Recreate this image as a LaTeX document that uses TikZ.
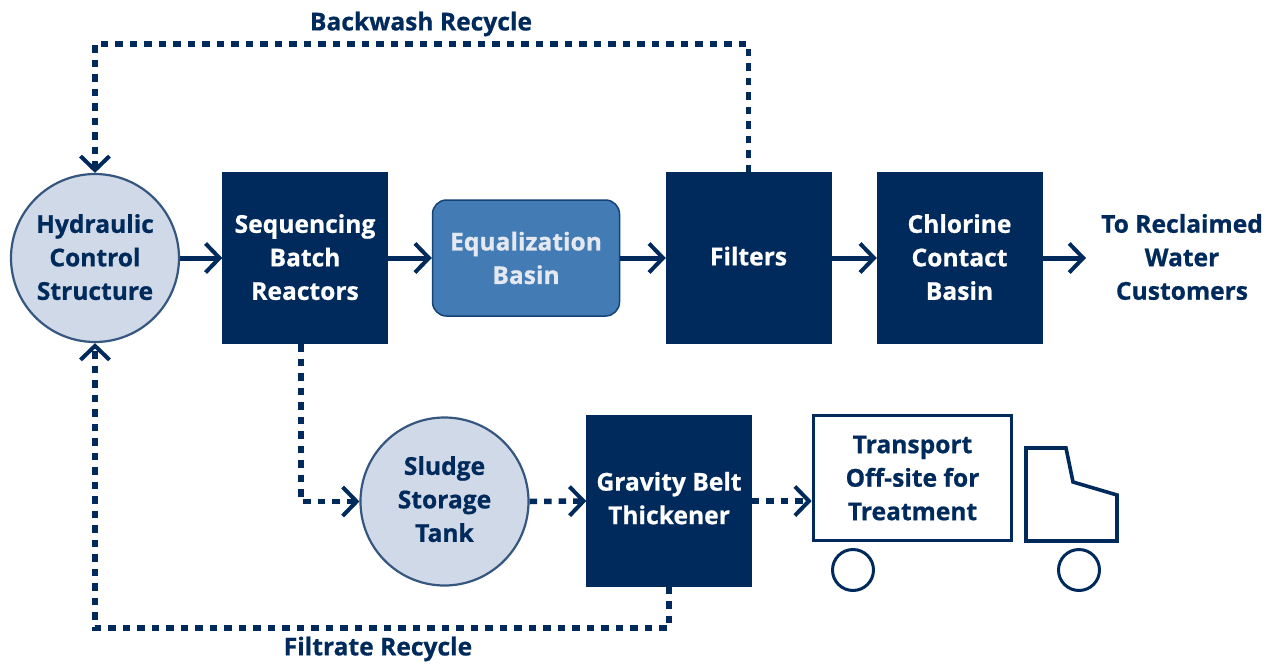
\documentclass[tikz,border=0pt]{standalone}
\usepackage{fontspec}
\setmainfont{Open Sans}[BoldFont={Open Sans Bold},BoldFeatures={FakeBold=0.7}]
\usetikzlibrary{arrows.meta}
\definecolor{navy}{HTML}{002A5C}
\definecolor{pale}{HTML}{D0D9E8}
\definecolor{midblue}{HTML}{437CB5}
\newcommand{\liftby}[1]{\\[\dimexpr #1pt*2-33.5pt\relax]\null}
\tikzset{
  x=1pt,y=-1pt,
  heavy/.style={font=\fontsize{24.6}{33.5}\selectfont\bfseries,align=center},
  label text/.style={heavy,text=navy},
  darkbox/.style={heavy,draw=navy,fill=navy,minimum width=165pt,minimum height=171pt,inner sep=0pt,text=white},
  tankcircle/.style={heavy,circle,draw=navy!75!pale,line width=2.2pt,fill=pale,minimum size=168pt,inner sep=0pt,text=navy},
  eqbox/.style={heavy,rounded corners=14pt,draw=navy!70!midblue,line width=1.5pt,fill=midblue,minimum width=187pt,minimum height=116pt,inner sep=0pt,text=pale!60!white},
  solidflow/.style={draw=navy,line width=5pt,-{Straight Barb[length=14pt,width=29pt,line width=4pt]}},
  dotflow/.style={draw=navy,line width=5.5pt,dash pattern=on 7.5pt off 7pt,-{Straight Barb[length=14pt,width=29pt,line width=4pt]}},
  truckline/.style={draw=navy,line width=3.6pt},
  wheel/.style={circle,draw=navy,line width=3pt,minimum size=41pt,inner sep=0pt},
}
\begin{document}
\begin{tikzpicture}
\useasboundingbox (0,0) rectangle (1277,664);
\node[tankcircle] (hcs) at (95,258) {Hydraulic\\Control\\Structure\liftby{1}};
\node[darkbox] (sbr) at (305,258) {Sequencing\\Batch\\Reactors\liftby{1}};
\node[eqbox] (eq) at (526,258) {Equalization\\Basin};
\node[darkbox] (fil) at (748.5,258) {Filters\liftby{2}};
\node[darkbox] (ccb) at (959.5,258) {Chlorine\\Contact\\Basin\liftby{1}};
\node[label text] (cust) at (1182,257) {To Reclaimed\\Water\\Customers};
\node[tankcircle] (sst) at (444.5,501.5) {Sludge\\Storage\\Tank\liftby{2.5}};
\node[darkbox] (gbt) at (669,501) {Gravity Belt\\Thickener\liftby{3}};
\node[truckline,minimum width=198pt,minimum height=125pt,inner sep=0pt,label text] (box) at (912.5,478) {Transport\\Off-site for\\Treatment};
\node[wheel] (w1) at (853,570) {};
\node[wheel] (w2) at (1079,570) {};
\draw[truckline,line join=miter] (1026,448) -- (1066,448) -- (1073,482) -- (1117,495) -- (1117,541) -- (1026,541) -- cycle;
\node[label text] (bw) at (421,24) {Backwash Recycle};
\node[label text] (fr) at (378,649) {Filtrate Recycle};
\coordinate (btr) at (748.5,44);
\coordinate (btl) at (95,44);
\coordinate (fbr) at (669,628);
\coordinate (fbl) at (95,628);
\coordinate (sc) at (301,501.5);
\coordinate (ss) at (301,344);
\coordinate (out) at (1086,258);
\draw[solidflow] (hcs.east) -- (sbr.west);
\draw[solidflow] (sbr.east) -- (eq.west);
\draw[solidflow] (eq.east) -- (fil.west);
\draw[solidflow] (fil.east) -- (ccb.west);
\draw[solidflow] (ccb.east) -- (out);
\draw[dotflow] (fil.north) -- (btr) -- (btl) -- (hcs.north);
\draw[dotflow] (gbt.south) -- (fbr) -- (fbl) -- (hcs.south);
\draw[dotflow] (ss) -- (sc) -- (sst.west);
\draw[dotflow] (sst.east) -- (gbt.west);
\draw[dotflow] (gbt.east) -- (gbt.east -| box.west);
\end{tikzpicture}
\end{document}
